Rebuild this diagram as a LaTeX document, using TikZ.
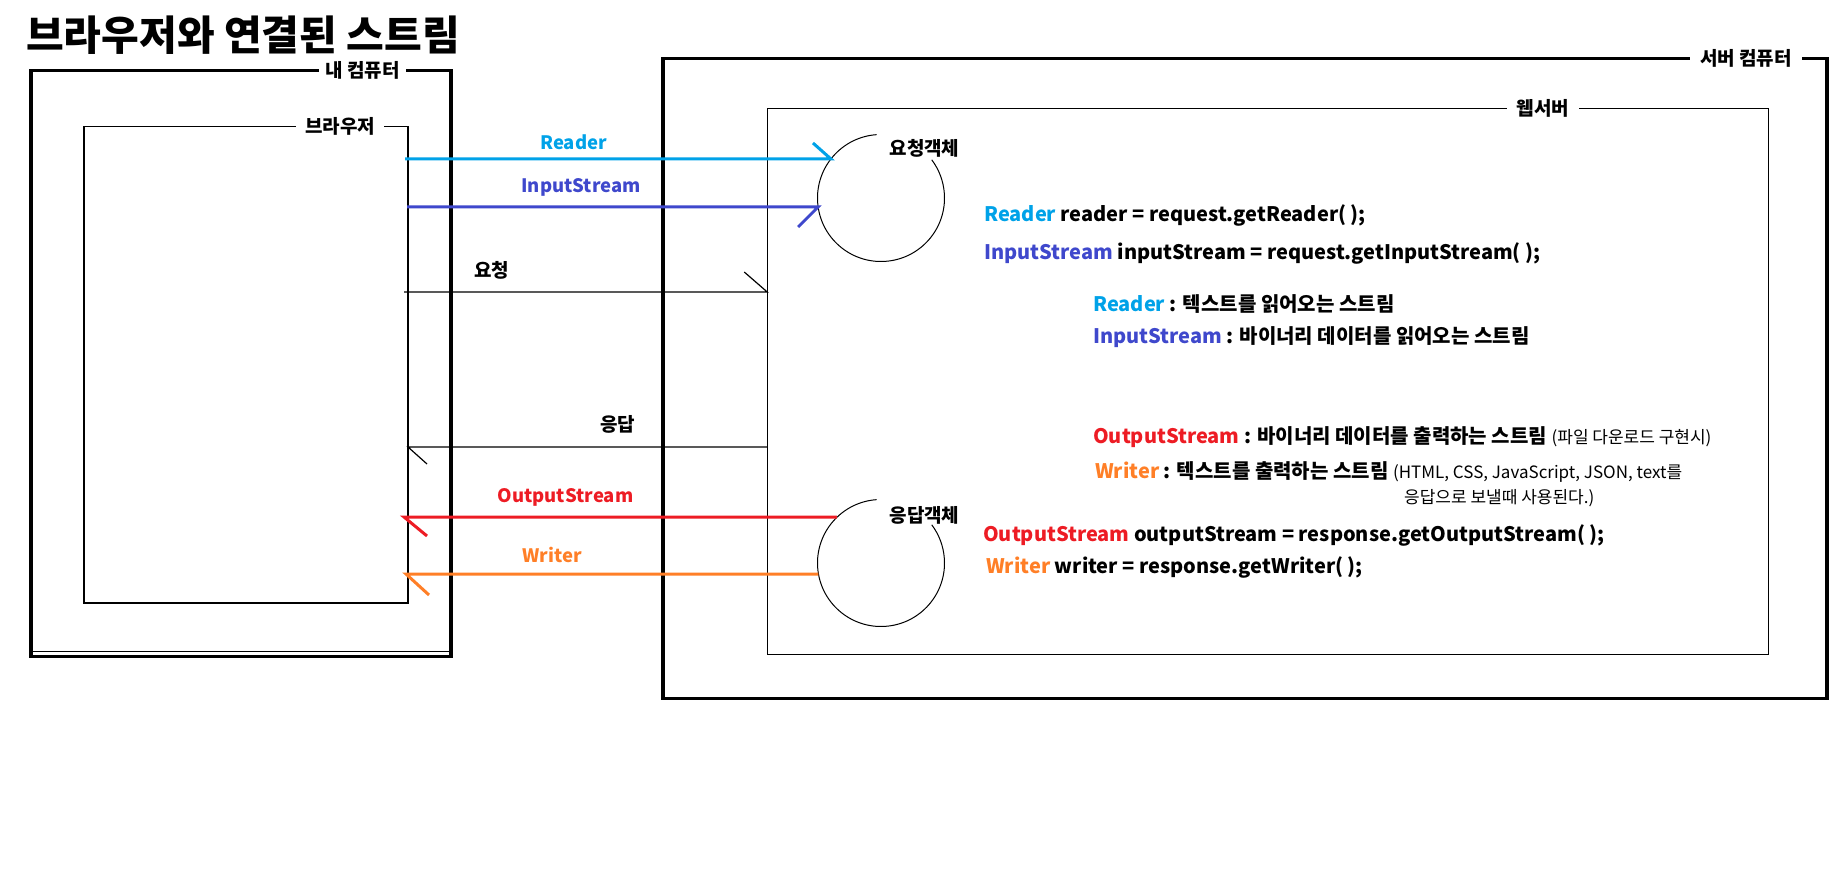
\documentclass[tikz,border=0pt]{standalone}
\usepackage{fontspec}
\setmainfont{Noto Sans CJK KR}
\definecolor{rdC}{HTML}{00A2E8}
\definecolor{inC}{HTML}{3F48CC}
\definecolor{ouC}{HTML}{ED1C24}
\definecolor{wrC}{HTML}{FF7F27}
\tikzset{
  thickbox/.style={draw=black, line width=3.5pt, inner sep=0pt, outer sep=0pt},
  thinbox/.style={draw=black, line width=1.2pt, inner sep=0pt, outer sep=0pt},
  boxlabel/.style={fill=white, inner xsep=6pt, inner ysep=1pt, font=\bfseries\fontsize{19}{21}\selectfont},
  objlabel/.style={inner sep=0pt, font=\bfseries\fontsize{19}{21}\selectfont},
  arrlabel/.style={inner sep=0pt, font=\bfseries\fontsize{18.5}{21}\selectfont},
  codeline/.style={anchor=west, inner sep=0pt, font=\bfseries\fontsize{20}{22}\selectfont},
  descline/.style={anchor=west, inner sep=0pt, font=\bfseries\fontsize{20}{22}\selectfont},
  streamline/.style={line width=3pt, line cap=butt},
  msgline/.style={line width=1.2pt},
  objcircle/.style={circle, inner sep=0pt, outer sep=0pt, minimum size=127pt},
  arcline/.style={line width=1pt},
}
\newcommand{\smallpar}[1]{{\mdseries\fontsize{17}{19}\selectfont #1}}
\begin{document}
\begin{tikzpicture}[x=1pt, y=-1pt]
\useasboundingbox (0,0) rectangle (1848,874);

% title
\node[anchor=west, inner sep=0pt, font=\bfseries\fontsize{41}{45}\selectfont] (title) at (26,35) {브라우저와 연결된 스트림};

% my computer
\node[thickbox, minimum width=420pt, minimum height=586pt] (mycomp) at (241,363.5) {};
\coordinate (mcL) at (31,651.5);
\coordinate (mcR) at (451,651.5);
\draw[line width=1.2pt] (mcL) -- (mcR);
\node[boxlabel] (mycompLbl) at (362.5,70.5) {내 컴퓨터};

% browser
\node[thinbox, minimum width=324pt, minimum height=476.5pt] (browser) at (246,364.75) {};
\node[boxlabel, inner xsep=9pt] (browserLbl) at (340,126.5) {브라우저};

% server computer
\node[thickbox, minimum width=1164pt, minimum height=640pt] (server) at (1244.75,378.5) {};
\node[boxlabel, inner xsep=10pt] (serverLbl) at (1746,58.5) {서버 컴퓨터};

% web server
\node[thinbox, minimum width=1001pt, minimum height=546pt] (web) at (1267.75,381.25) {};
\node[boxlabel, inner xsep=10pt] (webLbl) at (1543,108.3) {웹서버};

% request / response objects
\node[objcircle] (reqobj) at (881,198) {};
\draw[arcline] (reqobj.94) arc[start angle=94, end angle=397, radius=63.5pt];
\node[objlabel] (reqLbl) at (924.5,148) {요청객체};

\node[objcircle] (resobj) at (881,563) {};
\draw[arcline] (resobj.94) arc[start angle=94, end angle=397, radius=63.5pt];
\node[objlabel] (resLbl) at (924.5,515) {응답객체};

% stream arrows
\coordinate (rdS) at (405,159);
\draw[streamline, draw=rdC] (rdS) -- (rdS -| reqobj.142) -- ++(-18,-16);
\node[arrlabel, text=rdC] (rdLbl) at (573.5,142) {Reader};

\coordinate (inS) at (407,207);
\draw[streamline, draw=inC] (inS) -- (inS -| reqobj.188) -- ++(-20,20);
\node[arrlabel, text=inC] (inLbl) at (581,187) {InputStream};

\coordinate (rqS) at (404,292);
\draw[msgline] (rqS) -- (rqS -| web.west) -- ++(-23,-20);
\node[objlabel] (rqLbl) at (491.5,270) {요청};

\coordinate (rsE) at (408,447);
\draw[msgline] (rsE -| web.west) -- (rsE) -- ++(19,17);
\node[objlabel] (rsLbl) at (617.5,424) {응답};

\coordinate (ouE) at (404,517);
\draw[streamline, draw=ouC] (ouE -| resobj.134) -- (ouE) -- ++(23,19);
\node[arrlabel, text=ouC] (ouLbl) at (565.5,497) {OutputStream};

\coordinate (wrE) at (406,574);
\draw[streamline, draw=wrC] (wrE -| resobj.190) -- (wrE) -- ++(23,21);
\node[arrlabel, text=wrC] (wrLbl) at (552,555) {Writer};

% code and descriptions
\node[codeline] (code1) at (984,215) {\textcolor{rdC}{Reader} reader = request.getReader( );};
\node[codeline] (code2) at (984,253) {\textcolor{inC}{InputStream} inputStream = request.getInputStream( );};
\node[descline] (desc1) at (1093,304) {\textcolor{rdC}{Reader} : 텍스트를 읽어오는 스트림};
\node[descline] (desc2) at (1093,337) {\textcolor{inC}{InputStream} : 바이너리 데이터를 읽어오는 스트림};
\node[descline] (desc3) at (1093,437) {\textcolor{ouC}{OutputStream} : 바이너리 데이터를 출력하는 스트림 \smallpar{(파일 다운로드 구현시)}};
\node[descline] (desc4) at (1095,472) {\textcolor{wrC}{Writer} : 텍스트를 출력하는 스트림 \smallpar{(HTML, CSS, JavaScript, JSON, text를}};
\node[descline] (desc5) at (1404,498) {\smallpar{응답으로 보낼때 사용된다.)}};
\node[codeline] (code3) at (983,535) {\textcolor{ouC}{OutputStream} outputStream = response.getOutputStream( );};
\node[codeline] (code4) at (986,567) {\textcolor{wrC}{Writer} writer = response.getWriter( );};
\end{tikzpicture}
\end{document}
